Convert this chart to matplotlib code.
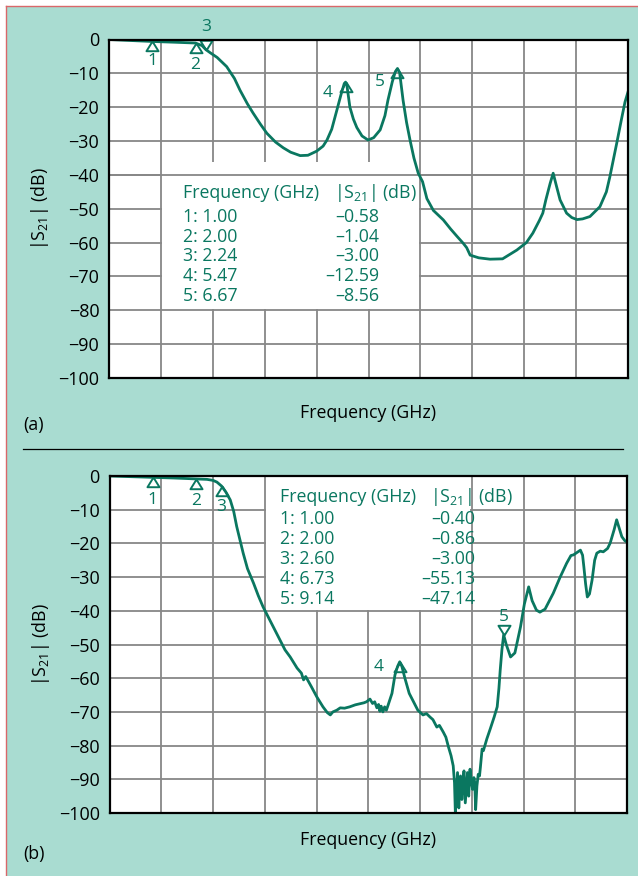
import matplotlib
matplotlib.use("Agg")
import matplotlib.pyplot as plt
from matplotlib.patches import Rectangle
from matplotlib.lines import Line2D
import numpy as np

plt.rcParams['font.family'] = ['Open Sans', 'DejaVu Sans']

# ---------------- data ----------------
freq_a = [0.0, 0.5, 1.0, 1.5, 2.0, 2.15, 2.24, 2.35, 2.5, 2.72, 2.9, 3.03, 3.2, 3.33, 3.5, 3.65,
          3.85, 4.03, 4.2, 4.42, 4.6, 4.8, 4.95, 5.04, 5.15, 5.27, 5.37, 5.44, 5.47, 5.5, 5.57,
          5.65, 5.73, 5.85, 5.99, 6.12, 6.27, 6.38, 6.45, 6.55, 6.62, 6.67, 6.72, 6.8, 6.88,
          6.96, 7.05, 7.15, 7.25, 7.35, 7.5, 7.73, 7.9, 8.05, 8.19, 8.27, 8.35, 8.55, 8.81,
          9.1, 9.43, 9.65, 9.8, 9.95, 10.03, 10.1, 10.2, 10.27, 10.35, 10.43, 10.58, 10.7,
          10.82, 10.95, 11.12, 11.35, 11.5, 11.58, 11.74, 11.85, 11.93, 12.0]
s21_a = [0.0, -0.3, -0.58, -0.8, -1.04, -1.8, -3.0, -4.0, -5.3, -8.0, -11.5, -15.0, -19.0, -21.7,
         -25.0, -27.7, -30.3, -32.0, -33.3, -34.3, -34.2, -33.0, -31.5, -29.7, -26.5, -20.8,
         -16.0, -13.0, -12.59, -13.5, -20.0, -23.5, -26.0, -28.5, -29.7, -29.0, -26.7, -22.5,
         -17.9, -12.5, -9.5, -8.56, -9.8, -18.0, -24.5, -29.7, -35.0, -39.5, -42.0, -47.0,
         -50.5, -53.3, -56.0, -58.2, -60.2, -61.5, -63.7, -64.5, -64.9, -64.8, -62.2, -60.0,
         -57.2, -53.5, -51.3, -47.4, -42.5, -39.5, -43.5, -47.4, -51.3, -52.6, -53.2, -53.0,
         -52.3, -49.4, -45.0, -40.6, -30.6, -23.5, -18.5, -15.5]

freq_b = [0.0, 0.5, 1.0, 1.5, 2.0, 2.26, 2.4, 2.49, 2.6, 2.7, 2.8, 2.88, 2.95, 3.1, 3.2, 3.34,
          3.45, 3.56, 3.8, 4.07, 4.19, 4.35, 4.45, 4.5, 4.55, 4.68, 4.81, 4.95, 5.05, 5.12,
          5.18, 5.27, 5.35, 5.45, 5.57, 5.7, 5.8, 5.9, 5.96, 6.04, 6.1, 6.15, 6.2, 6.24, 6.27,
          6.3, 6.34, 6.38, 6.42, 6.46, 6.55, 6.62, 6.68, 6.73, 6.78, 6.85, 6.95, 7.03, 7.15,
          7.27, 7.35, 7.43, 7.5, 7.59, 7.65, 7.74, 7.8, 7.86, 7.92, 7.97, 8.0, 8.02, 8.04, 8.07,
          8.1, 8.12, 8.14, 8.17, 8.2, 8.22, 8.25, 8.28, 8.3, 8.33, 8.36, 8.39, 8.42, 8.45, 8.47,
          8.49, 8.52, 8.55, 8.58, 8.6, 8.64, 8.67, 8.75, 8.83, 8.92, 8.99, 9.03, 9.06, 9.1,
          9.14, 9.2, 9.3, 9.4, 9.53, 9.62, 9.72, 9.8, 9.9, 9.98, 10.1, 10.29, 10.45, 10.6,
          10.7, 10.76, 10.85, 10.92, 10.97, 11.0, 11.04, 11.08, 11.13, 11.19, 11.25, 11.3,
          11.38, 11.45, 11.55, 11.61, 11.7, 11.76, 11.82, 11.88, 11.95, 12.0]
s21_b = [0.0, -0.2, -0.40, -0.6, -0.86, -1.0, -1.3, -1.8, -3.0, -4.8, -7.1, -10.5, -15.0,
         -22.9, -27.5, -31.8, -35.5, -38.8, -44.8, -51.6, -53.7, -57.0, -58.5, -60.5, -59.5,
         -62.5, -65.6, -68.5, -70.2, -70.9, -70.0, -69.5, -68.8, -68.9, -68.5, -67.9, -67.6,
         -67.3, -67.0, -66.2, -67.5, -67.0, -68.8, -67.8, -69.8, -68.3, -70.0, -68.5, -69.5,
         -68.0, -64.5, -59.0, -56.5, -55.13, -56.5, -60.0, -64.5, -66.5, -69.5, -70.9, -70.5,
         -71.5, -72.3, -74.5, -74.0, -76.0, -77.5, -80.4, -83.0, -86.0, -91.0, -100.0, -95.0,
         -88.0, -98.5, -93.0, -89.0, -96.0, -90.0, -87.5, -97.0, -91.5, -88.0, -95.0, -87.0,
         -90.5, -93.0, -89.5, -91.0, -99.0, -92.0, -88.5, -89.0, -86.5, -81.0, -81.5, -78.0,
         -75.0, -71.5, -68.5, -63.0, -57.6, -51.5, -47.14, -50.0, -53.7, -52.5, -44.8, -38.0,
         -32.9, -37.0, -39.8, -40.4, -39.5, -34.8, -30.0, -25.9, -23.6, -23.4, -22.6, -22.0,
         -23.5, -27.0, -32.0, -35.9, -35.0, -30.9, -25.0, -22.9, -22.3, -22.5, -21.5, -19.9,
         -16.0, -13.0, -15.5, -18.0, -19.2, -19.6]

marker_a_freq = [1.00, 2.00, 2.24, 5.47, 6.67]
marker_a_s21 = [-0.58, -1.04, -3.00, -12.59, -8.56]
marker_b_freq = [1.00, 2.00, 2.60, 6.73, 9.14]
marker_b_s21 = [-0.40, -0.86, -3.00, -55.13, -47.14]
marker_a_text = ["1: 1.00", "2: 2.00", "3: 2.24", "4: 5.47", "5: 6.67"]
marker_a_vals = ["\u20130.58", "\u20131.04", "\u20133.00", "\u201312.59", "\u20138.56"]
marker_b_text = ["1: 1.00", "2: 2.00", "3: 2.60", "4: 6.73", "5: 9.14"]
marker_b_vals = ["\u20130.40", "\u20130.86", "\u20133.00", "\u201355.13", "\u201347.14"]
yticks = [0, -10, -20, -30, -40, -50, -60, -70, -80, -90, -100]

# ---------------- style ----------------
GREEN = '#0a7760'
MINT = '#a9dcd1'
GRID = '#878787'
W, H = 638, 876
FS = 12.8

fig = plt.figure(figsize=(W / 100, H / 100), dpi=100)
fig.patch.set_facecolor('white')
fig.patches.append(Rectangle((6.5 / W, 0), 1, 1 - 6.5 / H, transform=fig.transFigure,
                             facecolor=MINT, edgecolor='none', zorder=-10))
fig.lines.append(Line2D([6 / W, 6 / W], [0, 1 - 5.7 / H], transform=fig.transFigure,
                        color='#d9676a', lw=1.0))
fig.lines.append(Line2D([6 / W, 1], [1 - 5.7 / H, 1 - 5.7 / H], transform=fig.transFigure,
                        color='#d9676a', lw=1.0))
# separator
fig.lines.append(Line2D([23 / W, 623 / W], [1 - 449 / H, 1 - 449 / H], transform=fig.transFigure,
                        color='black', lw=0.9))

up_tri = [(0, 0), (-0.62, -1), (0.62, -1), (0, 0)]
dn_tri = [(0, 0), (-0.62, 1), (0.62, 1), (0, 0)]


def px_ax(ax_box, x, y):
    l, t, r, b = ax_box
    return ((x - l) / (r - l), (b - y) / (b - t))


def setup(ax, xpad):
    ax.set_facecolor('white')
    ax.set_xlim(0, 12)
    ax.set_ylim(-100, 0)
    ax.set_xticks(np.arange(0, 12.01, 1.2))
    ax.set_xticklabels([])
    ax.set_yticks(yticks)
    ax.set_yticklabels([str(v).replace('-', '\u2212') for v in yticks], fontsize=13)
    ax.tick_params(length=0, pad=7, colors='black')
    for s in ax.spines.values():
        s.set_color('black')
        s.set_linewidth(1.6)
        s.set_zorder(6)
    ax.grid(True, color=GRID, lw=1.3, zorder=0)
    ax.set_axisbelow(True)
    ax.set_ylabel('|S$\\mathregular{_{21}}$| (dB)', fontsize=FS, labelpad=5)
    ax.set_xlabel('Frequency (GHz)', fontsize=FS, labelpad=xpad)


# ---------------- panel (a) ----------------
box_a = (109, 39.5, 628, 378)
axa = fig.add_axes([box_a[0] / W, 1 - box_a[3] / H, (box_a[2] - box_a[0]) / W,
                    (box_a[3] - box_a[1]) / H])
setup(axa, 12)
axa.add_patch(Rectangle((1.2 + 0.03, -80 + 0.25), 6.0 - 0.06, 43.5, facecolor='white',
                        edgecolor='none', zorder=1))
axa.axhline(-40, color=GRID, lw=1.3, zorder=1.5)
axa.plot(freq_a, s21_a, color=GREEN, lw=2.0, zorder=4, solid_joinstyle='round')
for i, (f, s) in enumerate(zip(marker_a_freq, marker_a_s21)):
    axa.plot([f], [s], marker=dn_tri if i == 2 else up_tri, ms=14, mfc='none', mec=GREEN,
             mew=1.4, zorder=5, clip_on=False)
lab_off_a = [(0, -14), (0, -16), (0, 16), (-13, -8), (-13, -10)]
for i, (f, s) in enumerate(zip(marker_a_freq, marker_a_s21)):
    axa.annotate(str(i + 1), (f, s), xytext=lab_off_a[i], textcoords='offset points',
                 ha='center', va='center', color=GREEN, fontsize=12.5, annotation_clip=False)

tx = axa.transAxes
x0, y0 = px_ax(box_a, 183, 193)
axa.text(x0, y0, 'Frequency (GHz)', transform=tx, color=GREEN, fontsize=FS, va='center', ha='left', zorder=7)
x1, _ = px_ax(box_a, 334, 193)
axa.text(x1, y0, '|S$\\mathregular{_{21}}$| (dB)', transform=tx, color=GREEN, fontsize=FS,
         va='center', ha='left', zorder=7)
xr, _ = px_ax(box_a, 379, 0)
for k in range(5):
    _, yk = px_ax(box_a, 0, 216.7 + 19.8 * k)
    axa.text(x0, yk, marker_a_text[k], transform=tx, color=GREEN, fontsize=FS, va='center', ha='left', zorder=7)
    axa.text(xr, yk, marker_a_vals[k], transform=tx, color=GREEN, fontsize=FS, va='center', ha='right', zorder=7)

fig.text(23 / W, 1 - 425 / H, '(a)', fontsize=FS, va='center', ha='left')

# ---------------- panel (b) ----------------
box_b = (109.5, 476, 627, 813)
axb = fig.add_axes([box_b[0] / W, 1 - box_b[3] / H, (box_b[2] - box_b[0]) / W,
                    (box_b[3] - box_b[1]) / H])
setup(axb, 6)
axb.add_patch(Rectangle((3.6 + 0.03, -40 + 0.25), 4.8 - 0.06, 40, facecolor='white',
                        edgecolor='none', zorder=1))
axb.plot(freq_b, s21_b, color=GREEN, lw=2.0, zorder=4, solid_joinstyle='round')
for i, (f, s) in enumerate(zip(marker_b_freq, marker_b_s21)):
    axb.plot([f], [s], marker=dn_tri if i == 4 else up_tri, ms=14, mfc='none', mec=GREEN,
             mew=1.4, zorder=5, clip_on=False)
lab_off_b = [(0, -16), (0, -16), (0, -15), (-15, -4), (0, 13)]
for i, (f, s) in enumerate(zip(marker_b_freq, marker_b_s21)):
    axb.annotate(str(i + 1), (f, s), xytext=lab_off_b[i], textcoords='offset points',
                 ha='center', va='center', color=GREEN, fontsize=12.5, annotation_clip=False)

tx = axb.transAxes
x0, y0 = px_ax(box_b, 280, 497)
axb.text(x0, y0, 'Frequency (GHz)', transform=tx, color=GREEN, fontsize=FS, va='center', ha='left', zorder=7)
x1, _ = px_ax(box_b, 430, 497)
axb.text(x1, y0, '|S$\\mathregular{_{21}}$| (dB)', transform=tx, color=GREEN, fontsize=FS,
         va='center', ha='left', zorder=7)
xr, _ = px_ax(box_b, 475, 0)
for k in range(5):
    _, yk = px_ax(box_b, 0, 519.5 + 19.9 * k)
    axb.text(x0, yk, marker_b_text[k], transform=tx, color=GREEN, fontsize=FS, va='center', ha='left', zorder=7)
    axb.text(xr, yk, marker_b_vals[k], transform=tx, color=GREEN, fontsize=FS, va='center', ha='right', zorder=7)

fig.text(23 / W, 1 - 854 / H, '(b)', fontsize=FS, va='center', ha='left')

fig.savefig('out.png', dpi=100, facecolor=fig.get_facecolor())
